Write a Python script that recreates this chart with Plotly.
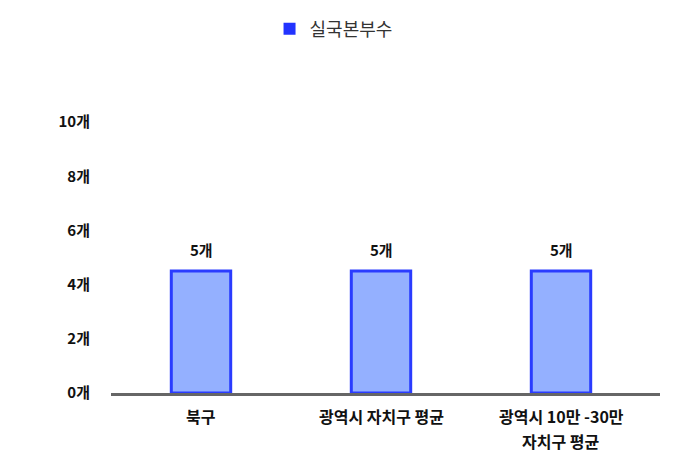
import plotly.graph_objects as go

categories = ["북구", "광역시 자치구 평균", "광역시 10만 -30만 자치구 평균"]
category_lines = [["북구"], ["광역시 자치구 평균"], ["광역시 10만 -30만", "자치구 평균"]]
values = [4.5, 4.5, 4.5]
series_name = "실국본부수"
tick_vals = [0, 2, 4, 6, 8, 10]
tick_text = ["0개", "2개", "4개", "6개", "8개", "10개"]

FONT = "Noto Sans CJK KR"

fig = go.Figure()
fig.add_trace(go.Bar(
    x=categories, y=values, width=0.33,
    marker=dict(color="#94b0ff", line=dict(color="#2a3cff", width=3)),
    showlegend=False, name=series_name, hoverinfo="x+y",
))
fig.add_trace(go.Scatter(
    x=[None], y=[None], mode="markers", name=series_name,
    marker=dict(symbol="square", size=11, color="#2233ff"),
))

# value labels above bars
for c, v in zip(categories, values):
    fig.add_annotation(x=c, y=v, text="<b>%d개</b>" % round(v + 1e-9),
                       showarrow=False, yanchor="middle", yshift=22,
                       font=dict(family=FONT, size=15, color="#111111"))

# category labels below axis (one annotation per line)
for c, lines in zip(categories, category_lines):
    for i, ln in enumerate(lines):
        fig.add_annotation(x=c, y=0, text="<b>%s</b>" % ln, showarrow=False,
                           yanchor="middle", yshift=-23 - 25 * i,
                           font=dict(family=FONT, size=16, color="#111111"))

fig.update_layout(
    width=674, height=465,
    margin=dict(l=103, r=22, t=87, b=80, autoexpand=False),
    paper_bgcolor="white", plot_bgcolor="white",
    font=dict(family=FONT, color="#111111"),
    showlegend=True,
    legend=dict(orientation="h", xref="container", yref="container",
                x=0.483, xanchor="center", y=0.955, yanchor="middle",
                font=dict(family=FONT, size=18, color="#333333"),
                itemsizing="constant", itemwidth=30),
)
fig.update_xaxes(
    range=[-0.5, 2.55], showgrid=False, showline=True, linecolor="#666666",
    linewidth=3, ticks="", showticklabels=False, automargin=False,
)
fig.update_yaxes(
    range=[0, 11], showgrid=False, zeroline=False, showline=False,
    tickvals=tick_vals, ticktext=["<b>" + t + "</b>" for t in tick_text],
    tickfont=dict(family=FONT, size=15, color="#111111"), ticklabelstandoff=20,
    automargin=False,
)

fig.write_html("out.html")
